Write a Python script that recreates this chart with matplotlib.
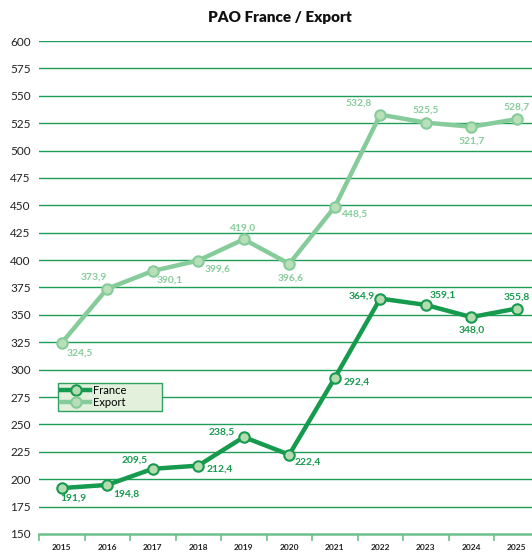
import numpy as np
import matplotlib
matplotlib.use('Agg')
import matplotlib.pyplot as plt
from matplotlib.patches import Rectangle

years = ['2015', '2016', '2017', '2018', '2019', '2020', '2021', '2022', '2023', '2024', '2025']
france = [191.9, 194.8, 209.5, 212.4, 238.5, 222.4, 292.4, 364.9, 359.1, 348.0, 355.8]
export = [324.5, 373.9, 390.1, 399.6, 419.0, 396.6, 448.5, 532.8, 525.5, 521.7, 528.7]
yticks = list(range(150, 601, 25))

# décalages des étiquettes (pixels)
off_export = [(18, -10), (-14, 12), (17, -9), (19, -9), (-1, 11), (1, -14),
              (20, -7), (-22, 11), (0, 12), (0, -14), (0, 12)]
off_france = [(12, -10), (19, -9), (-18, 9), (22, -3), (-22, 5), (19, -7),
              (22, -4), (-19, 2), (17, 10), (0, -13), (0, 11)]

c_fr = '#169a4e'
c_ex = '#86cc9a'
c_grid = '#1f9e58'

plt.rcParams['font.family'] = ['Lato', 'DejaVu Sans']

fig = plt.figure(figsize=(5.32, 5.54), dpi=100)
W, H = 532, 554
AW, AH = 500.5, 493
ax = fig.add_axes([39 / W, 20 / H, AW / W, AH / H])

x = np.arange(len(years))
ax.set_xlim(-0.5, len(years) - 0.5)
ax.set_ylim(150, 600)

for v in yticks[1:]:
    ax.axhline(v, color=c_grid, lw=1.0, zorder=1)

ax.plot(x, export, color=c_ex, lw=3.2, marker='o', ms=7.5, mfc='#b8dfb8',
        mec=c_ex, mew=1.5, label='Export', zorder=3)
ax.plot(x, france, color=c_fr, lw=3.2, marker='o', ms=7.5, mfc='#b5dbb0',
        mec=c_fr, mew=1.5, label='France', zorder=4)

for i, v in enumerate(export):
    ax.annotate(f'{v:.1f}'.replace('.', ','), (x[i], v), xytext=off_export[i],
                textcoords='offset pixels', ha='center', va='center',
                fontsize=7.4, fontweight='bold', color=c_ex, zorder=5)
for i, v in enumerate(france):
    ax.annotate(f'{v:.1f}'.replace('.', ','), (x[i], v), xytext=off_france[i],
                textcoords='offset pixels', ha='center', va='center',
                fontsize=7.4, fontweight='bold', color=c_fr, zorder=5)

ax.set_yticks(yticks)
ax.set_yticklabels([str(v) for v in yticks], fontsize=8.5, color='#222222')
ax.tick_params(axis='y', length=0, pad=6)

ax.set_xticks(x)
ax.set_xticklabels(years, fontsize=6, fontweight='bold', color='#222222')
ax.set_xticks(np.arange(-0.5, len(years), 1), minor=True)
ax.tick_params(axis='x', which='major', length=0, pad=7)
ax.tick_params(axis='x', which='minor', length=5, width=1.2, color='#6cc08a',
               direction='out')

for s in ['top', 'left', 'right']:
    ax.spines[s].set_visible(False)
ax.spines['bottom'].set_color('#6cc08a')
ax.spines['bottom'].set_linewidth(1.8)

# cadre de la légende
ax.add_patch(Rectangle(((58 - 39) / AW, (534 - 411) / AH), 104 / AW, 28 / AH,
                       transform=ax.transAxes, facecolor='#e2f0dc',
                       edgecolor='#2ea060', lw=1, zorder=6))
h, l = ax.get_legend_handles_labels()
leg = ax.legend(h[::-1], l[::-1], loc='upper left',
                bbox_to_anchor=((60 - 39) / AW, (534 - 384) / AH),
                fontsize=8, frameon=False, handlelength=2.6,
                borderpad=0.1, labelspacing=0.05, handletextpad=0.3,
                borderaxespad=0)
leg.set_zorder(7)

fig.text(280 / W, 1 - 18 / H, 'PAO France / Export', ha='center', va='center',
         fontsize=11, fontweight='heavy', color='#111111')

fig.savefig('out.png', dpi=100)
